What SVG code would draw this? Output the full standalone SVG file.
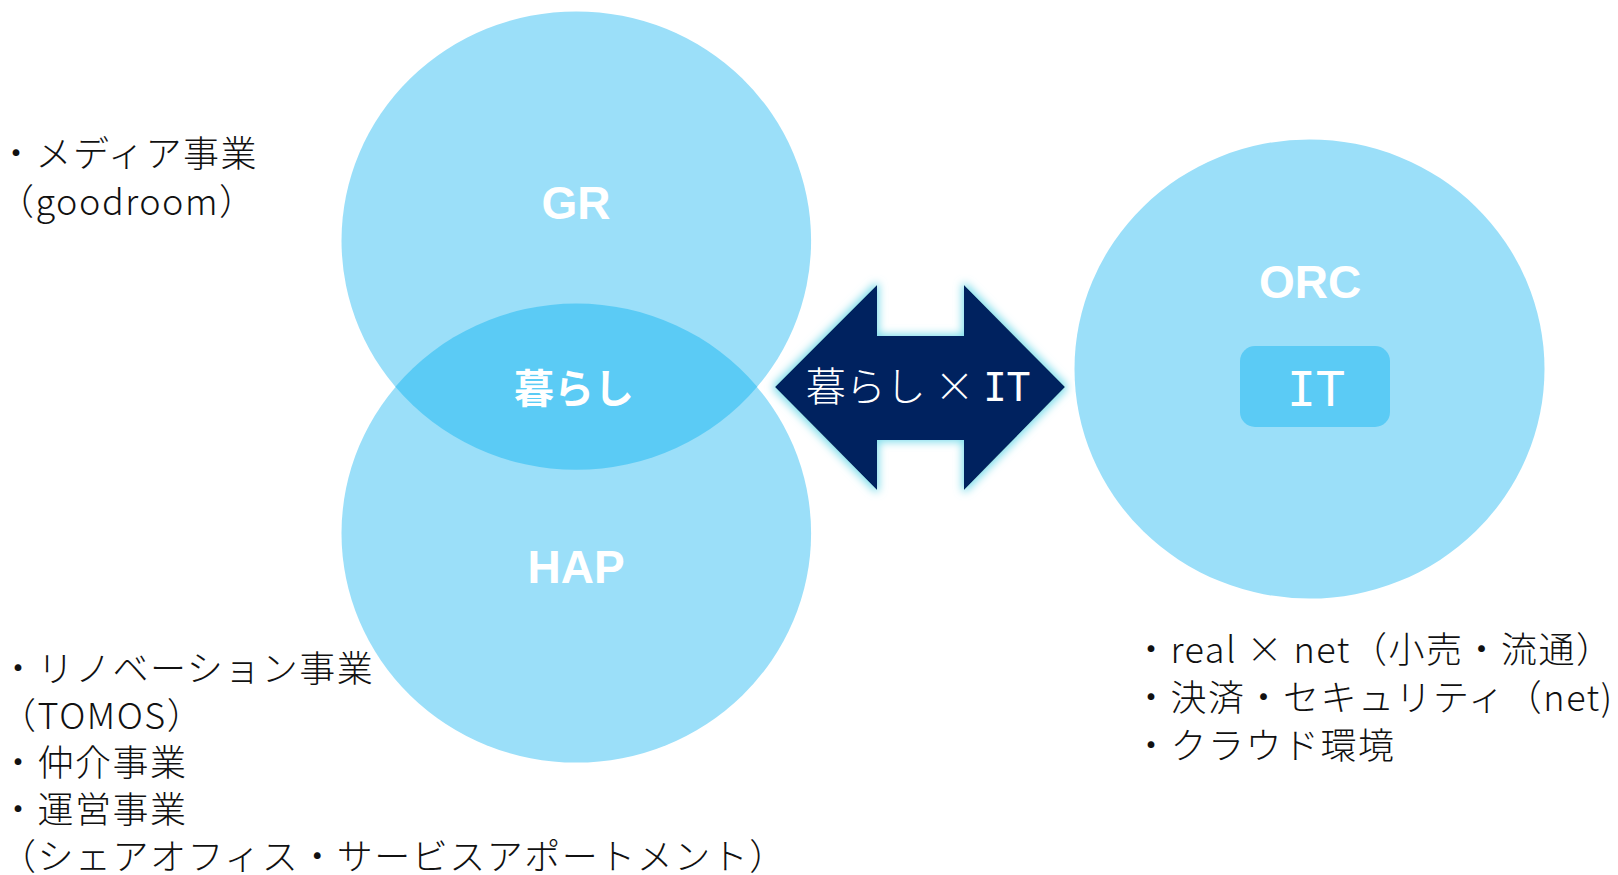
<svg xmlns="http://www.w3.org/2000/svg" width="1618" height="875" viewBox="0 0 1618 875">
<defs>
<style>
.circ{fill:#9BDFF9}
.lens{fill:#5BCBF5}
.lbl{font-family:"Liberation Sans",Arial,sans-serif;font-weight:bold;font-size:46px;fill:#fff;text-anchor:middle}
.jp{font-family:"Noto Sans CJK JP","Liberation Sans",sans-serif}
.mono{font-family:"DejaVu Sans Mono",monospace}
.txt{font-size:36px;fill:#111;letter-spacing:1.5px;font-weight:300}
</style>
<filter id="glow" x="-15%" y="-15%" width="130%" height="130%">
<feMorphology in="SourceAlpha" operator="dilate" radius="2" result="d"/>
<feGaussianBlur in="d" stdDeviation="4" result="b"/>
<feFlood flood-color="#7FDDEB" result="c"/>
<feComposite in="c" in2="b" operator="in" result="g"/>
<feMerge><feMergeNode in="g"/><feMergeNode in="SourceGraphic"/></feMerge>
</filter>
</defs>
<rect width="1618" height="875" fill="#fff"/>

<g id="gr">
<ellipse class="circ" cx="576.3" cy="240.7" rx="234.8" ry="229.3"/>
<text class="lbl" x="576" y="219">GR</text>
</g>
<g id="hap">
<ellipse class="circ" cx="576.3" cy="533.3" rx="234.8" ry="229.3"/>
<text class="lbl" x="576" y="583">HAP</text>
</g>
<g id="kurashi">
<path class="lens" d="M395.4,386.7 A234.8,229.3 0 0 0 757.2,386.7 A234.8,229.3 0 0 0 395.4,386.7 Z"/>
<text class="jp" x="574" y="403" font-size="40" font-weight="bold" fill="#fff" text-anchor="middle">暮らし</text>
</g>

<g id="orc">
<ellipse class="circ" cx="1309.5" cy="369" rx="235" ry="229.6"/>
<text class="lbl" x="1310" y="298">ORC</text>
<rect class="lens" x="1240" y="346" width="150" height="81" rx="15" ry="15"/>
<text class="mono" x="1316" y="406" font-size="48" fill="#fff" text-anchor="middle">IT</text>
</g>

<g id="connectors">
<g id="arrow" filter="url(#glow)">
<polygon points="775,387 877,285 877,336 964,336 964,285 1065,387 964,490 964,440 877,440 877,490" fill="#03205E"/>
</g>
<text class="jp" x="918" y="401" font-size="40" font-weight="300" fill="#fff" text-anchor="middle">暮らし × <tspan class="mono" font-size="39">IT</tspan></text>
</g>

<g id="text-gr">
<text class="jp txt" x="-2" y="167">・メディア事業</text>
<text class="jp txt" x="-2" y="215">（goodroom）</text>
</g>
<g id="text-hap">
<text class="jp txt" x="0" y="682">・リノベーション事業</text>
<text class="jp txt" x="0" y="729">（TOMOS）</text>
<text class="jp txt" x="0" y="776">・仲介事業</text>
<text class="jp txt" x="0" y="823">・運営事業</text>
<text class="jp txt" x="0" y="870">（シェアオフィス・サービスアポートメント）</text>
</g>
<g id="text-orc">
<text class="jp txt" x="1133" y="663">・real × net（小売・流通）</text>
<text class="jp txt" x="1133" y="711">・決済・セキュリティ（net)</text>
<text class="jp txt" x="1133" y="759">・クラウド環境</text>
</g>
</svg>
